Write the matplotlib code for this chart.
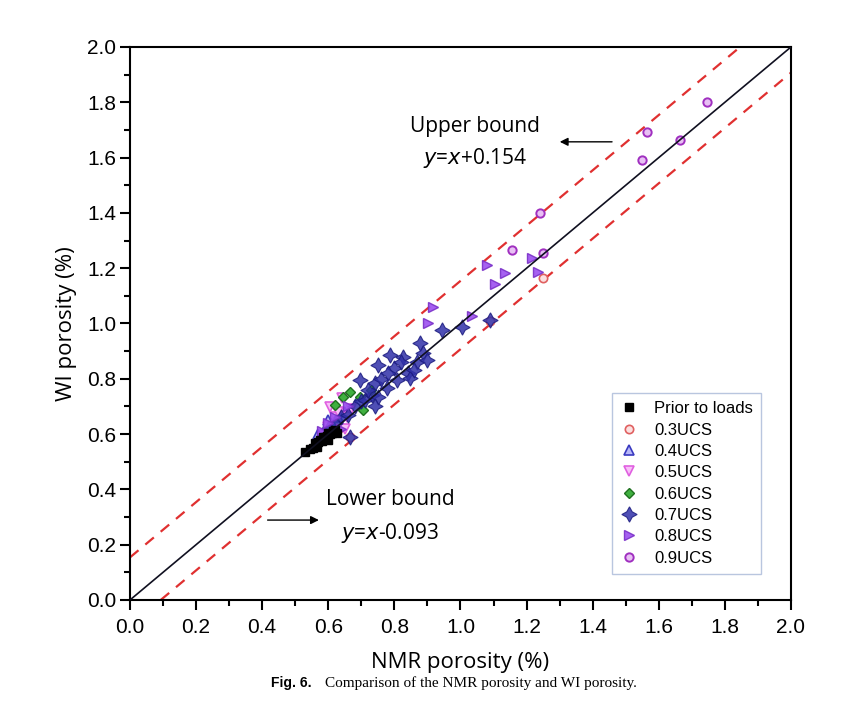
import matplotlib
matplotlib.use("Agg")
import matplotlib.pyplot as plt
import numpy as np
from matplotlib.ticker import MultipleLocator

# ---- data ----
prior_nmr = [0.53, 0.545, 0.555, 0.56, 0.565, 0.57, 0.575, 0.58, 0.585, 0.59, 0.595, 0.60, 0.605, 0.61, 0.615, 0.62, 0.626, 0.60]
prior_wi = [0.536, 0.545, 0.55, 0.567, 0.555, 0.57, 0.578, 0.575, 0.59, 0.59, 0.592, 0.603, 0.60, 0.605, 0.61, 0.615, 0.603, 0.58]

ucs03_nmr = [0.60, 0.63, 0.665, 1.09, 1.25]
ucs03_wi = [0.59, 0.62, 0.59, 1.01, 1.165]

ucs04_nmr = [0.57, 0.59, 0.61, 0.63, 0.60, 0.62, 0.65]
ucs04_wi = [0.60, 0.62, 0.64, 0.66, 0.65, 0.61, 0.68]

ucs05_nmr = [0.59, 0.60, 0.62, 0.641, 0.657, 0.67, 0.605, 0.65, 0.63]
ucs05_wi = [0.60, 0.626, 0.66, 0.731, 0.662, 0.69, 0.698, 0.62, 0.68]

ucs06_nmr = [0.62, 0.644, 0.666, 0.696, 0.705, 0.73]
ucs06_wi = [0.705, 0.734, 0.752, 0.734, 0.687, 0.76]

ucs07_nmr = [0.60, 0.62, 0.64, 0.66, 0.68, 0.70, 0.696, 0.711, 0.732, 0.741, 0.751, 0.751,
             0.777, 0.787, 0.808, 0.826, 0.842, 0.847, 0.868, 0.877, 0.887, 0.899, 0.944,
             1.005, 0.665, 1.09, 0.72, 0.76, 0.80, 0.82, 0.86, 0.78, 0.74]
ucs07_wi = [0.62, 0.64, 0.66, 0.67, 0.70, 0.72, 0.796, 0.723, 0.741, 0.785, 0.734, 0.850,
            0.767, 0.886, 0.796, 0.879, 0.821, 0.803, 0.861, 0.929, 0.893, 0.868, 0.976,
            0.987, 0.59, 1.013, 0.76, 0.80, 0.84, 0.86, 0.83, 0.82, 0.70]

ucs08_nmr = [0.902, 0.917, 1.035, 1.080, 1.104, 1.135, 1.216, 1.235, 0.62, 0.64, 0.58, 0.66, 0.60]
ucs08_wi = [1.001, 1.060, 1.027, 1.212, 1.143, 1.182, 1.236, 1.186, 0.66, 0.62, 0.61, 0.70, 0.64]

ucs09_nmr = [1.746, 1.564, 1.549, 1.664, 1.241, 1.156, 1.250]
ucs09_wi = [1.801, 1.693, 1.591, 1.664, 1.400, 1.266, 1.255]

upper_offset = 0.154
lower_offset = -0.093

fig = plt.figure(figsize=(8.54, 7.24), dpi=100)
ax = fig.add_axes([0.1522, 0.1713, 0.774, 0.7638])

line = np.array([0.0, 2.0])
ax.plot(line, line, color='#101020', lw=1.2, zorder=5)
ax.plot(line, line + upper_offset, color='#e03030', lw=1.6, ls=(0, (5, 4)), zorder=1)
ax.plot(line, line + lower_offset, color='#e03030', lw=1.6, ls=(0, (5, 4)), zorder=1)

ax.plot(prior_nmr, prior_wi, 's', ms=5.5, color='black', mec='black', label='Prior to loads', zorder=4)
ax.plot(ucs03_nmr, ucs03_wi, 'o', ms=6, mfc='#fbe0e0', mec='#e06060', mew=1.2, label='0.3UCS', zorder=3)
ax.plot(ucs04_nmr, ucs04_wi, '^', ms=6.5, mfc='#b8b8f8', mec='#3a3ac0', mew=1.2, label='0.4UCS', zorder=3)
ax.plot(ucs05_nmr, ucs05_wi, 'v', ms=6.5, mfc='#f8c0f8', mec='#e060e0', mew=1.2, label='0.5UCS', zorder=3)
ax.plot(ucs06_nmr, ucs06_wi, 'D', ms=5.5, mfc='#40b040', mec='#207020', mew=1.0, label='0.6UCS', zorder=3)
ax.plot(ucs07_nmr, ucs07_wi, marker=(4, 1, 0), ls='none', ms=11, mfc='#3030a8', mec='#1c1c80',
        mew=0.8, alpha=0.85, label='0.7UCS', zorder=3)
ax.plot(ucs08_nmr, ucs08_wi, '>', ms=7, mfc='#9c50f0', mec='#7a30c8', mew=1.0, alpha=0.9, label='0.8UCS', zorder=3)
ax.plot(ucs09_nmr, ucs09_wi, 'o', ms=6, mfc='#e8c0f4', mec='#a030c0', mew=1.4, label='0.9UCS', zorder=3)

ax.set_xlim(0, 2.0)
ax.set_ylim(0, 2.0)
ax.xaxis.set_major_locator(MultipleLocator(0.2))
ax.yaxis.set_major_locator(MultipleLocator(0.2))
ax.xaxis.set_minor_locator(MultipleLocator(0.1))
ax.yaxis.set_minor_locator(MultipleLocator(0.1))
ax.xaxis.set_major_formatter(plt.FormatStrFormatter('%.1f'))
ax.yaxis.set_major_formatter(plt.FormatStrFormatter('%.1f'))
ax.tick_params(which='major', direction='out', length=7, width=1.5, labelsize=15)
ax.tick_params(which='minor', direction='out', length=4.5, width=1.5)
ax.tick_params(axis='x', which='major', pad=6)
ax.tick_params(axis='y', which='major', pad=3)
for lab in ax.get_xticklabels() + ax.get_yticklabels():
    lab.set_family('Liberation Sans')
for sp in ax.spines.values():
    sp.set_linewidth(1.5)

ax.set_xlabel('NMR porosity (%)', fontsize=16, family='Open Sans', labelpad=11)
ax.set_ylabel('WI porosity (%)', fontsize=16, family='Open Sans', labelpad=7)

# annotations
ax.text(1.045, 1.711, 'Upper bound', fontsize=15, family='Open Sans', ha='center', va='center')
ax.text(1.045, 1.597, r'$\it{y}$=$\it{x}$+0.154', fontsize=15, family='Open Sans', ha='center', va='center')
ax.annotate('', xy=(1.292, 1.657), xytext=(1.467, 1.657),
            arrowprops=dict(arrowstyle='-|>', color='black', lw=1.0, mutation_scale=12))
ax.text(0.787, 0.362, 'Lower bound', fontsize=15, family='Open Sans', ha='center', va='center')
ax.text(0.787, 0.242, r'$\it{y}$=$\it{x}$-0.093', fontsize=15, family='Open Sans', ha='center', va='center')
ax.annotate('', xy=(0.58, 0.289), xytext=(0.408, 0.289),
            arrowprops=dict(arrowstyle='-|>', color='black', lw=1.0, mutation_scale=12))

leg = ax.legend(loc='lower right', bbox_to_anchor=(0.955, 0.047), frameon=True,
                fancybox=False, edgecolor='#a8b8d8', labelspacing=0.38, handletextpad=1.0,
                borderpad=0.5, handlelength=1.0, borderaxespad=0,
                prop={'family': 'Liberation Sans', 'size': 12})
leg.get_frame().set_linewidth(1.0)

fig.text(0.317, 0.057, 'Fig. 6.', fontsize=10, weight='bold', family='Liberation Sans', ha='left', va='center')
fig.text(0.381, 0.057, 'Comparison of the NMR porosity and WI porosity.', fontsize=11,
         family='Liberation Serif', ha='left', va='center')

fig.savefig('out.png', dpi=100)
